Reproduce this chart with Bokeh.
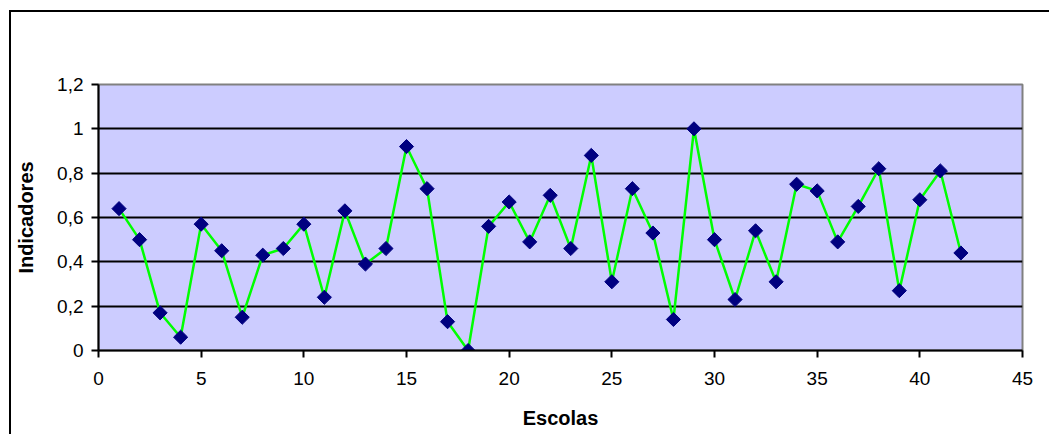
from bokeh.plotting import figure
from bokeh.models import FixedTicker, Range1d
from bokeh.embed import file_html
from bokeh.resources import INLINE
import numpy as np

escolas = list(range(1, 43))
indicadores = [0.64, 0.50, 0.17, 0.06, 0.57, 0.45, 0.15, 0.43, 0.46, 0.57,
               0.24, 0.63, 0.39, 0.46, 0.92, 0.73, 0.13, 0.00, 0.56, 0.67,
               0.49, 0.70, 0.46, 0.88, 0.31, 0.73, 0.53, 0.14, 1.00, 0.50,
               0.23, 0.54, 0.31, 0.75, 0.72, 0.49, 0.65, 0.82, 0.27, 0.68,
               0.81, 0.44]
x_ticks = [0, 5, 10, 15, 20, 25, 30, 35, 40, 45]
y_ticks = [0, 0.2, 0.4, 0.6, 0.8, 1.0, 1.2]
y_tick_labels = ["0", "0,2", "0,4", "0,6", "0,8", "1", "1,2"]

FONT = "Liberation Sans"

p = figure(width=1040, height=424, output_backend="svg", toolbar_location=None,
           x_range=Range1d(0, 45), y_range=Range1d(0, 1.2),
           min_border_left=87, min_border_right=29, min_border_top=72,
           min_border_bottom=86)
# outer chart border: right and bottom edges lie outside the window
p.styles = {"margin-left": "9px", "margin-top": "10px",
            "border-left": "2px solid black", "border-top": "2px solid black"}
p.background_fill_color = "#CCCCFF"
p.border_fill_color = "white"
p.outline_line_color = "#808080"
p.outline_line_width = 2

# grid
p.xgrid.visible = False
p.ygrid.ticker = FixedTicker(ticks=y_ticks[:-1])
p.ygrid.grid_line_color = "black"
p.ygrid.grid_line_width = 2

# axes
for ax in (p.xaxis[0], p.yaxis[0]):
    ax.axis_line_color = "black"
    ax.axis_line_width = 2
    ax.major_tick_line_color = "black"
    ax.major_tick_line_width = 2
    ax.major_tick_in = 0
    ax.major_tick_out = 7
    ax.minor_tick_line_color = None
    ax.major_label_text_font = FONT
    ax.major_label_text_font_size = "19px"
    ax.major_label_text_color = "black"
    ax.axis_label_text_font = FONT
    ax.axis_label_text_font_size = "20px"
    ax.axis_label_text_font_style = "bold"
    ax.axis_label_text_color = "black"

p.xaxis.ticker = FixedTicker(ticks=x_ticks)
p.yaxis.ticker = FixedTicker(ticks=y_ticks)
p.yaxis.major_label_overrides = {t: l for t, l in zip(y_ticks, y_tick_labels)}
p.xaxis.major_label_standoff = 14
p.yaxis.major_label_standoff = 8
p.xaxis.axis_label = "Escolas"
p.yaxis.axis_label = "Indicadores"
p.xaxis.axis_label_standoff = 19
p.yaxis.axis_label_standoff = 17

p.line(escolas, indicadores, line_color="#00FF00", line_width=2.5)
p.scatter(escolas, indicadores, marker="square", angle=np.pi / 4, size=10,
          fill_color="#000080", line_color="#000080")

open("out.html", "w").write(file_html(p, INLINE))
